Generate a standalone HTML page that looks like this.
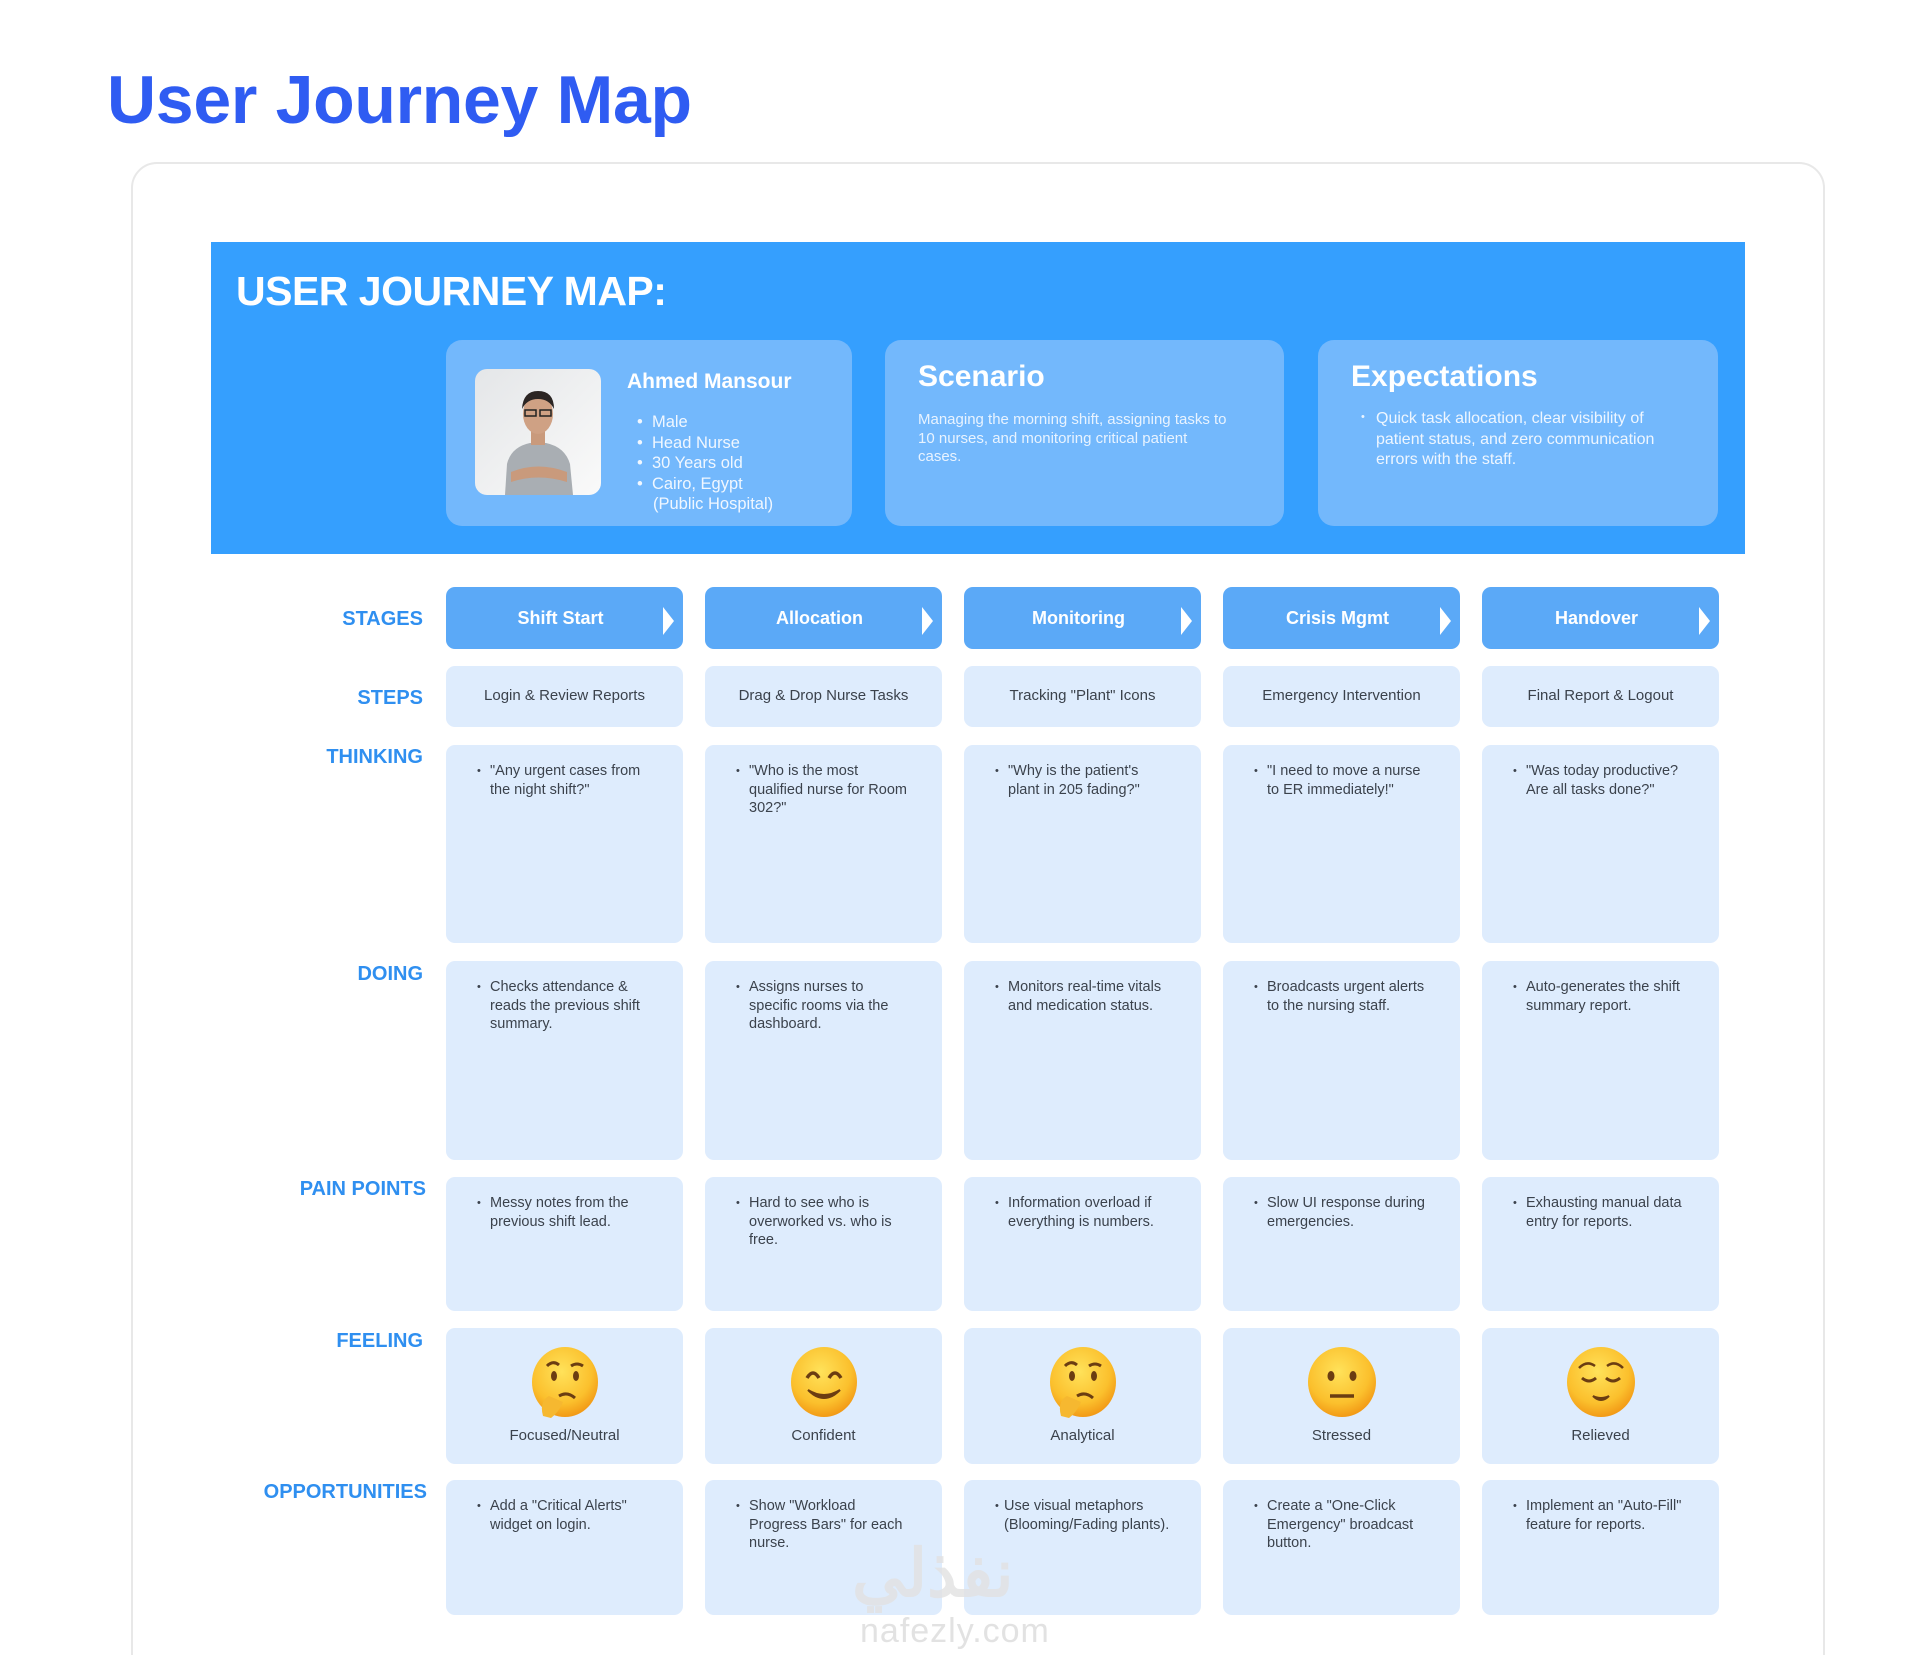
<!DOCTYPE html>
<html><head><meta charset="utf-8"><style>
*{margin:0;padding:0;box-sizing:border-box}
html{width:1920px;height:1655px;overflow:hidden}
body{width:1920px;height:1655px;background:#fff;position:relative;overflow:hidden;font-family:"Liberation Sans",Arial,sans-serif}
.a{position:absolute}
.title{left:107px;top:61px;font-size:68px;font-weight:bold;color:#2f5cf2;letter-spacing:-0.3px}
.outer{left:131px;top:162px;width:1694px;height:1540px;border:2px solid #e8e8e8;border-radius:26px}
.hdr{left:211px;top:242px;width:1534px;height:312px;background:#359ffe}
.h1{left:236px;top:268px;font-size:41px;font-weight:bold;color:#fff;letter-spacing:-0.5px}
.card{background:#73b8fc;border-radius:16px;top:340px;height:186px}
.lbl{right:1497px;font-size:20px;font-weight:bold;color:#2f8ff0;text-align:right;white-space:nowrap}
.stage{background:#5ba9f7;border-radius:9px;height:62px;color:#fff;font-weight:bold;font-size:18px;display:flex;align-items:center;justify-content:center;padding-right:8px}
.stage:after{content:"";position:absolute;right:9px;top:20px;border-left:11px solid #fff;border-top:14px solid transparent;border-bottom:14px solid transparent}
.cell{background:#deecfd;border-radius:9px;color:#3b424c;font-size:14.5px;line-height:18.5px}
.step{display:flex;align-items:center;justify-content:center;font-size:15px}
.b{padding:17px 31px 0 44px;position:absolute}
.b:before{content:"•";position:absolute;left:31px;top:17px;font-size:11px}
.feel{text-align:center;font-size:15px}
.wm{color:#e2e2e2}
</style></head><body>
<div class="a title">User Journey Map</div>
<div class="a outer"></div>
<div class="a hdr"></div>
<div class="a h1">USER JOURNEY MAP:</div>

<div class="a card" style="left:446px;width:406px"></div>
<div class="a" style="left:475px;top:369px;width:126px;height:126px;border-radius:12px;background:linear-gradient(135deg,#e4e6e8,#fafafa);overflow:hidden">
<svg width="126" height="126" viewBox="0 0 126 126">
<path d="M30 126 L32 95 Q36 78 55 74 L71 74 Q90 78 95 95 L98 126Z" fill="#a9aeb3"/>
<rect x="56" y="62" width="14" height="14" fill="#c99a7c"/>
<ellipse cx="63" cy="45" rx="15" ry="20" fill="#cfa184"/>
<path d="M47 40 Q48 22 63 22 Q79 22 79 40 Q74 30 63 30 Q52 30 47 40Z" fill="#2b2523"/>
<rect x="50" y="41" width="11" height="6" fill="none" stroke="#222" stroke-width="1.5"/><rect x="65" y="41" width="11" height="6" fill="none" stroke="#222" stroke-width="1.5"/>
<path d="M36 103 Q63 92 92 103 L92 113 Q63 104 36 113Z" fill="#c99a7c"/>
</svg></div>
<div class="a" style="left:627px;top:370px;font-size:21px;font-weight:bold;color:#fff">Ahmed Mansour</div>
<div class="a" style="left:637px;top:412px;font-size:16.5px;line-height:20.5px;color:#f0f7ff">
<div>•&nbsp;&nbsp;Male</div><div>•&nbsp;&nbsp;Head Nurse</div><div>•&nbsp;&nbsp;30 Years old</div><div>•&nbsp;&nbsp;Cairo, Egypt</div><div style="padding-left:16px">(Public Hospital)</div></div>

<div class="a card" style="left:885px;width:399px"></div>
<div class="a" style="left:918px;top:360px;font-size:30px;font-weight:bold;color:#fff">Scenario</div>
<div class="a" style="left:918px;top:411px;width:315px;font-size:15px;line-height:18.5px;color:#e8f3ff">Managing the morning shift, assigning tasks to 10 nurses, and monitoring critical patient cases.</div>

<div class="a card" style="left:1318px;width:400px"></div>
<div class="a" style="left:1351px;top:360px;font-size:30px;font-weight:bold;color:#fff">Expectations</div>
<div class="a" style="left:1361px;top:411px;font-size:11px;color:#e8f3ff">•</div>
<div class="a" style="left:1376px;top:409px;width:300px;font-size:16px;line-height:20.5px;color:#eef6ff">Quick task allocation, clear visibility of patient status, and zero communication errors with the staff.</div>

<div class="a lbl" style="top:608px">STAGES</div>
<div class="a lbl" style="top:687px">STEPS</div>
<div class="a lbl" style="top:746px">THINKING</div>
<div class="a lbl" style="top:963px">DOING</div>
<div class="a lbl" style="top:1178px;right:1494px">PAIN POINTS</div>
<div class="a lbl" style="top:1330px">FEELING</div>
<div class="a lbl" style="top:1481px;right:1493px">OPPORTUNITIES</div>

<div class="a stage" style="left:446px;top:587px;width:237px">Shift Start</div>
<div class="a stage" style="left:705px;top:587px;width:237px">Allocation</div>
<div class="a stage" style="left:964px;top:587px;width:237px">Monitoring</div>
<div class="a stage" style="left:1223px;top:587px;width:237px">Crisis Mgmt</div>
<div class="a stage" style="left:1482px;top:587px;width:237px">Handover</div>

<div class="a cell step" style="left:446px;top:666px;width:237px;height:61px">Login &amp; Review Reports</div>
<div class="a cell step" style="left:705px;top:666px;width:237px;height:61px">Drag &amp; Drop Nurse Tasks</div>
<div class="a cell step" style="left:964px;top:666px;width:237px;height:61px">Tracking "Plant" Icons</div>
<div class="a cell step" style="left:1223px;top:666px;width:237px;height:61px">Emergency Intervention</div>
<div class="a cell step" style="left:1482px;top:666px;width:237px;height:61px">Final Report &amp; Logout</div>

<div class="a cell b" style="left:446px;top:745px;width:237px;height:198px">"Any urgent cases from the night shift?"</div>
<div class="a cell b" style="left:705px;top:745px;width:237px;height:198px">"Who is the most qualified nurse for Room 302?"</div>
<div class="a cell b" style="left:964px;top:745px;width:237px;height:198px">"Why is the patient's plant in 205 fading?"</div>
<div class="a cell b" style="left:1223px;top:745px;width:237px;height:198px">"I need to move a nurse to ER immediately!"</div>
<div class="a cell b" style="left:1482px;top:745px;width:237px;height:198px">"Was today productive? Are all tasks done?"</div>

<div class="a cell b" style="left:446px;top:961px;width:237px;height:199px">Checks attendance &amp; reads the previous shift summary.</div>
<div class="a cell b" style="left:705px;top:961px;width:237px;height:199px">Assigns nurses to specific rooms via the dashboard.</div>
<div class="a cell b" style="left:964px;top:961px;width:237px;height:199px">Monitors real-time vitals and medication status.</div>
<div class="a cell b" style="left:1223px;top:961px;width:237px;height:199px">Broadcasts urgent alerts to the nursing staff.</div>
<div class="a cell b" style="left:1482px;top:961px;width:237px;height:199px">Auto-generates the shift summary report.</div>

<div class="a cell b" style="left:446px;top:1177px;width:237px;height:134px">Messy notes from the previous shift lead.</div>
<div class="a cell b" style="left:705px;top:1177px;width:237px;height:134px">Hard to see who is overworked vs. who is free.</div>
<div class="a cell b" style="left:964px;top:1177px;width:237px;height:134px">Information overload if everything is numbers.</div>
<div class="a cell b" style="left:1223px;top:1177px;width:237px;height:134px">Slow UI response during emergencies.</div>
<div class="a cell b" style="left:1482px;top:1177px;width:237px;height:134px">Exhausting manual data entry for reports.</div>

<svg width="0" height="0" style="position:absolute"><defs><radialGradient id="g" cx="45%" cy="35%" r="65%"><stop offset="0" stop-color="#ffe25a"/><stop offset="0.7" stop-color="#fbc02d"/><stop offset="1" stop-color="#f29a16"/></radialGradient></defs></svg>

<div class="a cell feel" style="left:446px;top:1328px;width:237px;height:136px">
<svg class="a" style="left:83px;top:18px" width="72" height="72"><ellipse cx="36" cy="36" rx="33" ry="35" fill="url(#g)"/><path d="M18 20 Q24 14 30 19 M42 20 Q48 16 54 20" stroke="#6b3d12" stroke-width="3" fill="none"/><ellipse cx="25" cy="30" rx="3" ry="5" fill="#6b3d12"/><ellipse cx="47" cy="30" rx="3" ry="5" fill="#6b3d12"/><path d="M30 50 Q38 45 46 52" stroke="#6b3d12" stroke-width="3" fill="none"/><path d="M14 70 Q10 55 20 50 L34 56 Q30 66 22 72Z" fill="#f6b830"/></svg>
<div class="a" style="left:0;width:100%;top:99px">Focused/Neutral</div></div>
<div class="a cell feel" style="left:705px;top:1328px;width:237px;height:136px">
<svg class="a" style="left:83px;top:18px" width="72" height="72"><ellipse cx="36" cy="36" rx="33" ry="35" fill="url(#g)"/><path d="M19 32 Q25 22 31 32 M41 32 Q47 22 53 32" stroke="#6b3d12" stroke-width="3.5" fill="none"/><path d="M20 44 Q36 60 52 44 Q36 54 20 44Z" fill="#6b3d12" stroke="#6b3d12" stroke-width="2"/></svg>
<div class="a" style="left:0;width:100%;top:99px">Confident</div></div>
<div class="a cell feel" style="left:964px;top:1328px;width:237px;height:136px">
<svg class="a" style="left:83px;top:18px" width="72" height="72"><ellipse cx="36" cy="36" rx="33" ry="35" fill="url(#g)"/><path d="M18 20 Q24 14 30 19 M42 20 Q48 16 54 20" stroke="#6b3d12" stroke-width="3" fill="none"/><ellipse cx="25" cy="30" rx="3" ry="5" fill="#6b3d12"/><ellipse cx="47" cy="30" rx="3" ry="5" fill="#6b3d12"/><path d="M30 50 Q38 45 46 52" stroke="#6b3d12" stroke-width="3" fill="none"/><path d="M14 70 Q10 55 20 50 L34 56 Q30 66 22 72Z" fill="#f6b830"/></svg>
<div class="a" style="left:0;width:100%;top:99px">Analytical</div></div>
<div class="a cell feel" style="left:1223px;top:1328px;width:237px;height:136px">
<svg class="a" style="left:83px;top:18px" width="72" height="72"><ellipse cx="36" cy="36" rx="34" ry="35" fill="url(#g)"/><ellipse cx="25" cy="30" rx="3.5" ry="5" fill="#6b3d12"/><ellipse cx="47" cy="30" rx="3.5" ry="5" fill="#6b3d12"/><path d="M24 50 L48 50" stroke="#6b3d12" stroke-width="3.5"/></svg>
<div class="a" style="left:0;width:100%;top:99px">Stressed</div></div>
<div class="a cell feel" style="left:1482px;top:1328px;width:237px;height:136px">
<svg class="a" style="left:83px;top:18px" width="72" height="72"><ellipse cx="36" cy="36" rx="34" ry="35" fill="url(#g)"/><path d="M14 22 Q22 14 30 20 M42 20 Q50 14 58 22" stroke="#6b3d12" stroke-width="2.5" fill="none"/><path d="M17 32 Q24 38 31 32 M41 32 Q48 38 55 32" stroke="#6b3d12" stroke-width="3" fill="none"/><path d="M28 50 Q36 58 44 50 Q36 54 28 50Z" fill="#6b3d12" stroke="#6b3d12" stroke-width="2"/></svg>
<div class="a" style="left:0;width:100%;top:99px">Relieved</div></div>

<div class="a cell b" style="left:446px;top:1480px;width:237px;height:135px">Add a "Critical Alerts" widget on login.</div>
<div class="a cell b" style="left:705px;top:1480px;width:237px;height:135px">Show "Workload Progress Bars" for each nurse.</div>
<div class="a cell b" style="left:964px;top:1480px;width:237px;height:135px;padding-left:40px">Use visual metaphors (Blooming/Fading plants).</div>
<div class="a cell b" style="left:1223px;top:1480px;width:237px;height:135px">Create a "One-Click Emergency" broadcast button.</div>
<div class="a cell b" style="left:1482px;top:1480px;width:237px;height:135px">Implement an "Auto-Fill" feature for reports.</div>

<div class="a wm" style="left:852px;top:1535px;font-size:66px;font-weight:bold;font-family:'Liberation Sans','Noto Sans CJK SC',sans-serif;opacity:0.8">نفذلي</div>
<div class="a wm" style="left:860px;top:1612px;font-size:34px;letter-spacing:1px">nafezly.com</div>
</body></html>
